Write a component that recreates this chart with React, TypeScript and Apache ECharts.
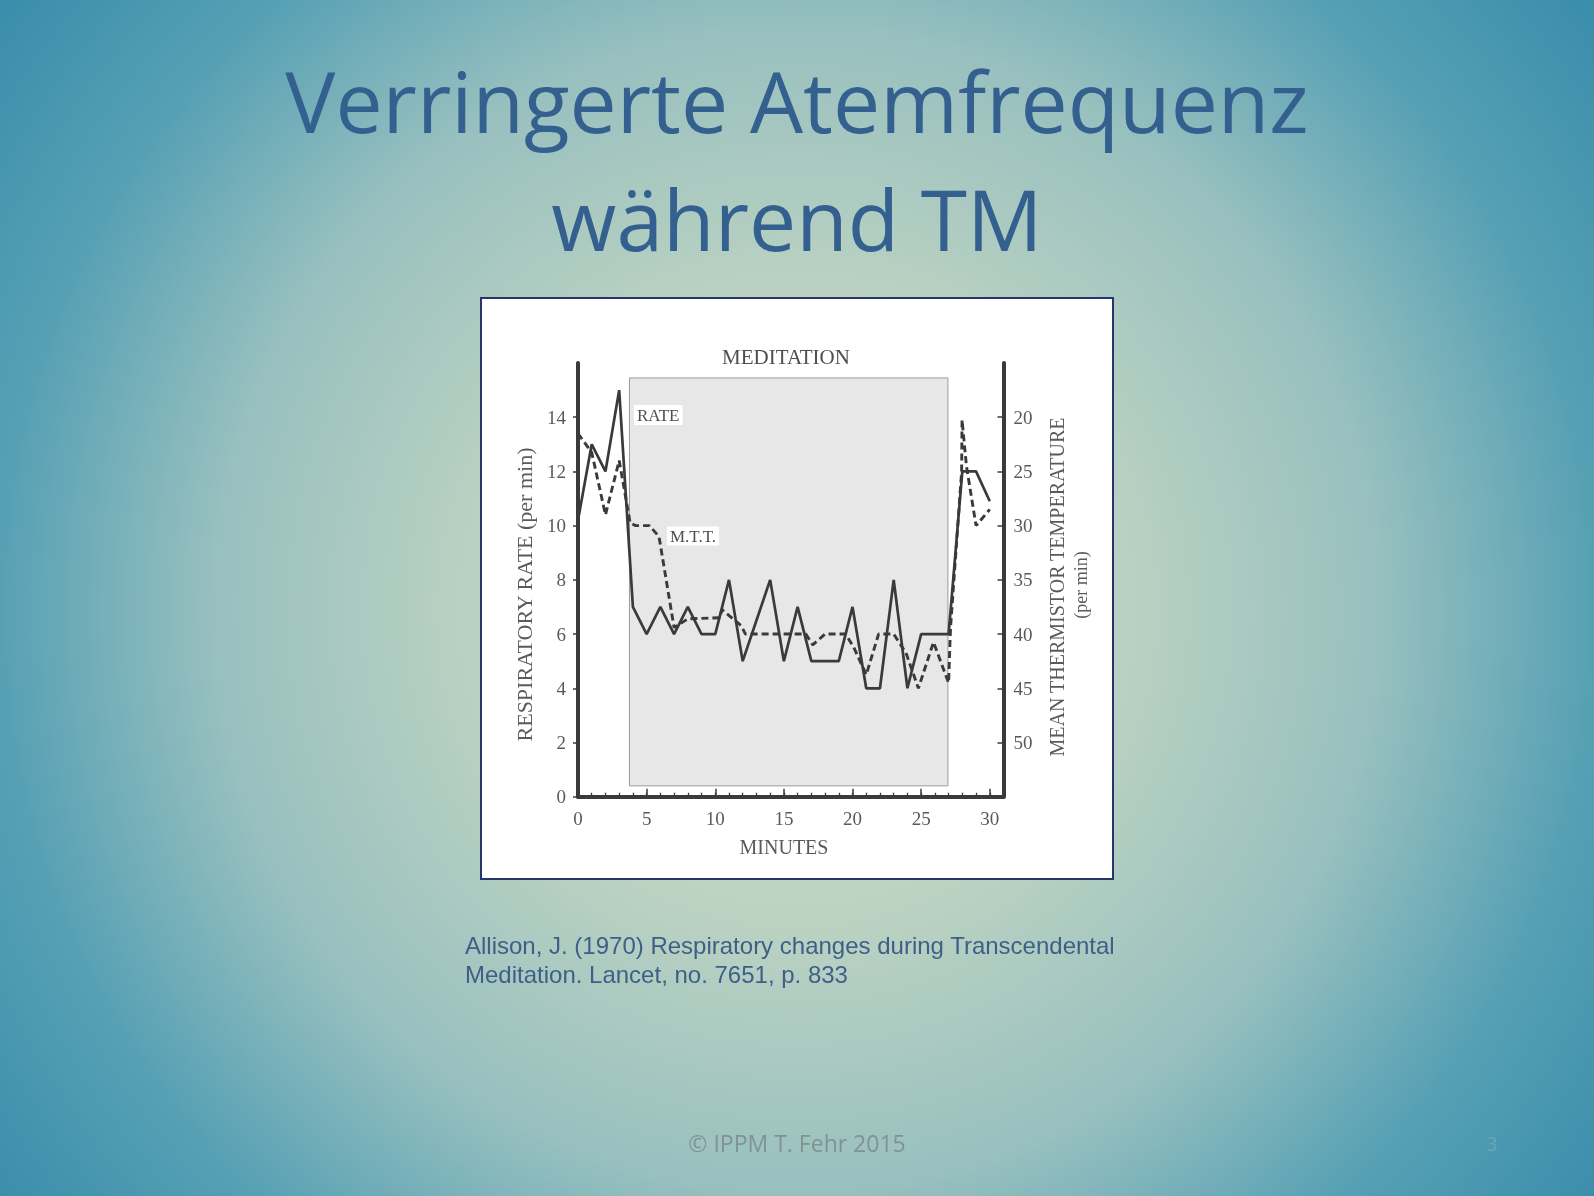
import React, { useEffect, useRef } from "react";
import * as echarts from "echarts";

// Respiratory rate (breaths per minute), one reading per minute
const minutes = [
  0, 1, 2, 3, 4, 5, 6, 7, 8, 9, 10, 11, 12, 13, 14, 15, 16, 17, 18, 19, 20,
  21, 22, 23, 24, 25, 26, 27, 28, 29, 30,
];
const respiratoryRate = [
  10.2, 13, 12, 15, 7, 6, 7, 6, 7, 6, 6, 8, 5, 6.5, 8, 5, 7, 5, 5, 5, 7, 4, 4,
  8, 4, 6, 6, 6, 12, 12, 10.9,
];

// Mean thermistor temperature trace (plotted against the inverted right axis)
const mttMinutes = [
  0, 1, 2, 3, 3.8, 4.2, 5.2, 5.9, 7, 8, 10.3, 10.5, 11.9, 12.2, 16.6, 17.1, 18,
  19.5, 20.1, 21, 21.9, 23, 23.9, 24.8, 25.9, 27, 27.1, 27.15, 27.95, 27.98,
  28.3, 29, 30,
];
const mttTemperature = [
  21.5, 23.25, 29, 24, 29.75, 30, 30, 31, 39.4, 38.6, 38.5, 37.75, 39.25, 40,
  40, 41, 40, 40, 41.25, 43.75, 40, 40, 41.75, 45, 40.75, 44.5, 40.75, 39.25,
  25, 20.25, 24.5, 30, 28.5,
];

// Meditation period (minutes) and the vertical extent of its shaded band
const meditationStart = 3.75;
const meditationEnd = 26.95;
const bandBottom = 0.4;
const bandTop = 15.45;

// Axis ranges and tick positions
const rateRange = [0, 16];
const rateTickValues = [0, 2, 4, 6, 8, 10, 12, 14];
const tempRange = [15, 55];
const tempTickValues = [20, 25, 30, 35, 40, 45, 50];
const minuteRange = [0, 31];
const minuteMajorTicks = [0, 5, 10, 15, 20, 25, 30];
const minuteMinorTicks = minutes;

const titleLines = ["Verringerte Atemfrequenz", "während TM"];
const citationLines = [
  "Allison, J. (1970) Respiratory changes during Transcendental",
  "Meditation. Lancet, no. 7651, p. 833",
];
const footerText = "© IPPM T. Fehr 2015";

const INK = "#3a3a3a";
const TEXT = "#5a5a5a";
const SERIF = '"Liberation Serif", "Times New Roman", serif';

export default function App() {
  const ref = useRef<HTMLDivElement>(null);

  useEffect(() => {
    if (!ref.current) return;
    const chart = echarts.init(ref.current, null, { renderer: "svg" });

    const serifText = (
      text: string,
      x: number,
      y: number,
      size: number,
      extra: any = {}
    ) => ({
      type: "text",
      x,
      y,
      z: 100,
      rotation: extra.rotation || 0,
      silent: true,
      style: {
        text,
        fill: extra.fill || TEXT,
        font: `${size}px ${SERIF}`,
        align: extra.align || "center",
        verticalAlign: "middle",
        backgroundColor: extra.backgroundColor,
        padding: extra.padding,
      },
    });

    const labelStyle = {
      color: TEXT,
      fontFamily: SERIF,
      fontSize: 19,
    };

    const option: any = {
      animation: false,
      graphic: {
        elements: [
          {
            type: "rect",
            z: -20,
            silent: true,
            shape: { x: 0, y: 0, width: 1594, height: 1196 },
            style: {
              fill: {
                type: "radial",
                x: 797,
                y: 610,
                r: 1000,
                global: true,
                colorStops: [
                  { offset: 0, color: "#d1ddc3" },
                  { offset: 0.3, color: "#bdd3c2" },
                  { offset: 0.58, color: "#98c0bf" },
                  { offset: 0.8, color: "#56a0b4" },
                  { offset: 1, color: "#3a8dab" },
                ],
              },
            },
          },
          {
            type: "rect",
            z: -10,
            silent: true,
            shape: { x: 481, y: 298, width: 632, height: 581 },
            style: { fill: "#ffffff", stroke: "#27356b", lineWidth: 2 },
          },
          // slide title
          ...titleLines.map((line, i) => ({
            type: "text",
            x: 797,
            y: 100 + i * 118,
            z: 100,
            silent: true,
            style: {
              text: line,
              fill: "#33608f",
              font: '84px "Open Sans", sans-serif',
              align: "center",
              verticalAlign: "middle",
            },
          })),
          // reference
          ...citationLines.map((line, i) => ({
            type: "text",
            x: 465,
            y: 945 + i * 29.5,
            z: 100,
            silent: true,
            style: {
              text: line,
              fill: "#3d5f88",
              font: '24px "Liberation Sans", Arial, sans-serif',
              align: "left",
              verticalAlign: "middle",
            },
          })),
          {
            type: "text",
            x: 797,
            y: 1143,
            z: 100,
            silent: true,
            style: {
              text: footerText,
              fill: "#7f9393",
              font: '23px "Open Sans", sans-serif',
              align: "center",
              verticalAlign: "middle",
            },
          },
          {
            type: "text",
            x: 1492,
            y: 1143,
            z: 100,
            silent: true,
            style: {
              text: "3",
              fill: "#6aa7b6",
              font: '20px "Open Sans", sans-serif',
              align: "center",
              verticalAlign: "middle",
            },
          },
          // figure annotations
          serifText("MEDITATION", 786, 357, 21, { fill: "#4f4f4f" }),
          serifText("RATE", 634, 415, 17, {
            align: "left",
            backgroundColor: "#ffffff",
            padding: [2, 3, 1, 3],
            fill: "#4f4f4f",
          }),
          serifText("M.T.T.", 667, 536, 17, {
            align: "left",
            backgroundColor: "#ffffff",
            padding: [1, 3, 1, 3],
            fill: "#4f4f4f",
          }),
          serifText("MINUTES", 784, 847, 20),
          serifText("RESPIRATORY RATE (per min)", 524.5, 594.5, 22, {
            rotation: Math.PI / 2,
          }),
          serifText("MEAN THERMISTOR TEMPERATURE", 1057, 587, 20, {
            rotation: Math.PI / 2,
          }),
          serifText("(per min)", 1081, 585, 18, { rotation: Math.PI / 2 }),
        ],
      },
      grid: {
        left: 578,
        top: 363,
        width: 425.5,
        height: 433.7,
        containLabel: false,
      },
      xAxis: [
        {
          type: "value",
          position: "bottom",
          min: minuteRange[0],
          max: minuteRange[1],
          axisLine: { show: true, onZero: false, lineStyle: { color: INK, width: 4 } },
          axisTick: {
            show: true,
            inside: true,
            length: 8,
            customValues: minuteMajorTicks,
            lineStyle: { color: INK, width: 1.5 },
          },
          axisLabel: { ...labelStyle, margin: 12, customValues: minuteMajorTicks },
          splitLine: { show: false },
        },
        {
          type: "value",
          position: "bottom",
          min: minuteRange[0],
          max: minuteRange[1],
          axisLine: { show: false },
          axisTick: {
            show: true,
            inside: true,
            length: 4,
            customValues: minuteMinorTicks,
            lineStyle: { color: INK, width: 1.3 },
          },
          axisLabel: { show: false },
          splitLine: { show: false },
        },
      ],
      yAxis: [
        {
          type: "value",
          position: "left",
          min: rateRange[0],
          max: rateRange[1],
          axisLine: { show: true, onZero: false, lineStyle: { color: INK, width: 4 } },
          axisTick: {
            show: true,
            inside: false,
            length: 5,
            customValues: rateTickValues,
            lineStyle: { color: INK, width: 1.5 },
          },
          axisLabel: {
            ...labelStyle,
            margin: 12,
            padding: [0, 0, 14, 0],
            customValues: rateTickValues,
          },
          splitLine: { show: false },
        },
        {
          type: "value",
          position: "right",
          inverse: true,
          min: tempRange[0],
          max: tempRange[1],
          axisLine: { show: true, onZero: false, lineStyle: { color: INK, width: 4 } },
          axisTick: {
            show: true,
            inside: true,
            length: 6,
            customValues: tempTickValues,
            lineStyle: { color: INK, width: 1.5 },
          },
          axisLabel: {
            ...labelStyle,
            margin: 10,
            padding: [0, 0, 14, 0],
            customValues: tempTickValues,
          },
          splitLine: { show: false },
        },
      ],
      series: [
        {
          type: "line",
          name: "RATE",
          xAxisIndex: 0,
          yAxisIndex: 0,
          data: minutes.map((m, i) => [m, respiratoryRate[i]]),
          showSymbol: false,
          z: 3,
          lineStyle: { color: INK, width: 2.7 },
          markArea: {
            silent: true,
            itemStyle: { color: "#e7e7e7", borderColor: "#9b9b9b", borderWidth: 1 },
            data: [
              [
                { coord: [meditationStart, bandBottom] },
                { coord: [meditationEnd, bandTop] },
              ],
            ],
          },
        },
        {
          type: "line",
          name: "M.T.T.",
          xAxisIndex: 0,
          yAxisIndex: 1,
          data: mttMinutes.map((m, i) => [m, mttTemperature[i]]),
          showSymbol: false,
          z: 2,
          lineStyle: { color: INK, width: 2.9, type: [7, 4] },
        },
      ],
    };

    chart.setOption(option);
    return () => chart.dispose();
  }, []);

  return (
    <div
      ref={ref}
      style={{ position: "fixed", left: 0, top: 0, width: 1594, height: 1196 }}
    />
  );
}
